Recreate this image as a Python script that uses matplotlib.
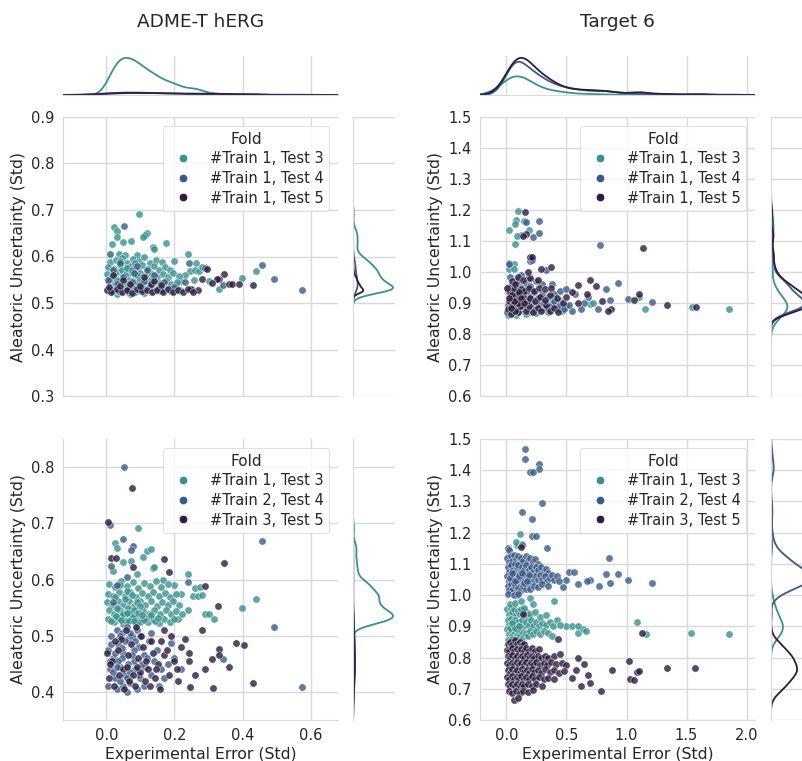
import numpy as np
import matplotlib
matplotlib.use("Agg")
import matplotlib.pyplot as plt
from matplotlib.lines import Line2D
from matplotlib.ticker import FormatStrFormatter

# ---------------- data ----------------
titles = ["ADME-T hERG", "Target 6"]
labels_row1 = ["#Train 1, Test 3", "#Train 1, Test 4", "#Train 1, Test 5"]
labels_row2 = ["#Train 1, Test 3", "#Train 2, Test 4", "#Train 3, Test 5"]
fold_colors = ["#3a918d", "#3b5a88", "#2b1d3e"]

# ADME-T hERG, split 1 (top left)
herg1_test3 = [
    (0.095, 0.691), (0.024, 0.663), (0.031, 0.654), (0.120, 0.651), (0.115, 0.647), (0.031, 0.643),
    (0.108, 0.643), (0.018, 0.626), (0.050, 0.631), (0.072, 0.633), (0.176, 0.628), (0.137, 0.620),
    (0.141, 0.617), (0.036, 0.606), (0.056, 0.603), (0.089, 0.604), (0.241, 0.606), (0.200, 0.590),
    (0.264, 0.585), (0.245, 0.569), (0.260, 0.570), (0.272, 0.568), (0.280, 0.578), (0.440, 0.569),
    (0.397, 0.554), (0.258, 0.550), (0.230, 0.560), (0.220, 0.548), (0.300, 0.548), (0.330, 0.530),
    (0.250, 0.528), (0.205, 0.538),
    (0.010, 0.588), (0.028, 0.592), (0.046, 0.597), (0.062, 0.585), (0.078, 0.594), (0.095, 0.590),
    (0.112, 0.598), (0.128, 0.586), (0.146, 0.593), (0.163, 0.588), (0.005, 0.578), (0.022, 0.574),
    (0.040, 0.581), (0.057, 0.575), (0.073, 0.579), (0.090, 0.572), (0.106, 0.581), (0.122, 0.574),
    (0.139, 0.579), (0.155, 0.572), (0.172, 0.577), (0.188, 0.570), (0.003, 0.563), (0.018, 0.558),
    (0.034, 0.566), (0.050, 0.559), (0.066, 0.564), (0.083, 0.556), (0.100, 0.565), (0.116, 0.557),
    (0.133, 0.563), (0.149, 0.555), (0.165, 0.562), (0.181, 0.556), (0.197, 0.564), (0.212, 0.557),
    (0.008, 0.547), (0.025, 0.542), (0.042, 0.549), (0.058, 0.541), (0.075, 0.548), (0.092, 0.540),
    (0.108, 0.546), (0.125, 0.541), (0.141, 0.549), (0.158, 0.543), (0.175, 0.548), (0.190, 0.541),
    (0.207, 0.546), (0.004, 0.531), (0.020, 0.527), (0.037, 0.533), (0.053, 0.528), (0.070, 0.534),
    (0.087, 0.526), (0.103, 0.532), (0.120, 0.527), (0.136, 0.534), (0.153, 0.528), (0.170, 0.533),
    (0.186, 0.526), (0.200, 0.531), (0.215, 0.527), (0.012, 0.552), (0.045, 0.570), (0.085, 0.585),
    (0.130, 0.550), (0.160, 0.535), (0.070, 0.520), (0.110, 0.522), (0.030, 0.520),
    (0.035, 0.545), (0.055, 0.560), (0.065, 0.550), (0.045, 0.535), (0.080, 0.545), (0.025, 0.565),
    (0.060, 0.575), (0.090, 0.560), (0.040, 0.590), (0.070, 0.540), (0.050, 0.525), (0.085, 0.530),
    (0.030, 0.550), (0.100, 0.550), (0.075, 0.570),
    (0.020, 0.525), (0.040, 0.530), (0.060, 0.528), (0.080, 0.533), (0.100, 0.526), (0.120, 0.531),
    (0.140, 0.525), (0.050, 0.535), (0.070, 0.527), (0.090, 0.538), (0.110, 0.529), (0.030, 0.532),
    (0.130, 0.536), (0.150, 0.530), (0.060, 0.540), (0.045, 0.527), (0.065, 0.532), (0.085, 0.524),
    (0.055, 0.530), (0.075, 0.536), (0.095, 0.529), (0.035, 0.526), (0.105, 0.534), (0.065, 0.524),
]
herg1_test4 = [
    (0.053, 0.665), (0.010, 0.606), (0.244, 0.585), (0.290, 0.575), (0.456, 0.582), (0.492, 0.551),
    (0.343, 0.539), (0.574, 0.527), (0.020, 0.570), (0.050, 0.555), (0.080, 0.565), (0.110, 0.548),
    (0.140, 0.560), (0.030, 0.540), (0.065, 0.535), (0.100, 0.530), (0.130, 0.538), (0.170, 0.545),
    (0.040, 0.585), (0.090, 0.580), (0.005, 0.550), (0.160, 0.525), (0.060, 0.528), (0.120, 0.570),
    (0.200, 0.535), (0.230, 0.545), (0.015, 0.528), (0.075, 0.545),
]
herg1_test5 = [
    (0.296, 0.573), (0.345, 0.562), (0.330, 0.551), (0.325, 0.551), (0.280, 0.552), (0.310, 0.544),
    (0.360, 0.541), (0.370, 0.541), (0.390, 0.540), (0.430, 0.539), (0.250, 0.530), (0.270, 0.528),
    (0.002, 0.527), (0.015, 0.524), (0.030, 0.530), (0.045, 0.523), (0.060, 0.528), (0.075, 0.522),
    (0.090, 0.530), (0.105, 0.525), (0.120, 0.529), (0.135, 0.523), (0.150, 0.528), (0.165, 0.524),
    (0.180, 0.530), (0.195, 0.523), (0.210, 0.527), (0.225, 0.524), (0.240, 0.530), (0.255, 0.524),
    (0.008, 0.535), (0.040, 0.537), (0.070, 0.540), (0.100, 0.536), (0.130, 0.540), (0.160, 0.538),
    (0.050, 0.550), (0.110, 0.555), (0.020, 0.560), (0.140, 0.548),
]

# ADME-T hERG, split 2 (bottom left)
herg2_test3 = [
    (0.093, 0.692), (0.027, 0.665), (0.030, 0.656), (0.120, 0.651), (0.132, 0.654), (0.050, 0.632),
    (0.072, 0.633), (0.108, 0.640), (0.136, 0.620), (0.140, 0.623), (0.240, 0.610), (0.260, 0.585),
    (0.275, 0.586), (0.255, 0.570), (0.270, 0.570), (0.280, 0.572), (0.397, 0.550), (0.440, 0.565),
    (0.290, 0.538), (0.300, 0.538), (0.315, 0.530), (0.220, 0.575), (0.200, 0.590), (0.240, 0.545),
    (0.210, 0.530), (0.020, 0.615), (0.165, 0.600), (0.090, 0.610),
    (0.008, 0.592), (0.026, 0.586), (0.044, 0.598), (0.060, 0.589), (0.077, 0.596), (0.094, 0.585),
    (0.110, 0.594), (0.127, 0.588), (0.145, 0.597), (0.162, 0.586), (0.180, 0.592), (0.004, 0.575),
    (0.021, 0.570), (0.038, 0.578), (0.055, 0.571), (0.071, 0.577), (0.088, 0.569), (0.105, 0.576),
    (0.121, 0.570), (0.138, 0.578), (0.154, 0.571), (0.171, 0.576), (0.187, 0.569), (0.205, 0.574),
    (0.002, 0.560), (0.017, 0.554), (0.033, 0.562), (0.049, 0.555), (0.066, 0.561), (0.082, 0.553),
    (0.099, 0.562), (0.115, 0.555), (0.132, 0.561), (0.148, 0.553), (0.164, 0.560), (0.180, 0.554),
    (0.196, 0.561), (0.213, 0.555), (0.007, 0.545), (0.024, 0.539), (0.041, 0.546), (0.057, 0.538),
    (0.074, 0.545), (0.091, 0.537), (0.107, 0.544), (0.124, 0.538), (0.140, 0.546), (0.157, 0.539),
    (0.174, 0.545), (0.190, 0.538), (0.206, 0.544), (0.222, 0.539), (0.005, 0.529), (0.022, 0.525),
    (0.038, 0.531), (0.055, 0.524), (0.072, 0.530), (0.088, 0.523), (0.104, 0.529), (0.121, 0.524),
    (0.138, 0.530), (0.154, 0.523), (0.170, 0.529), (0.186, 0.524), (0.200, 0.530),
    (0.035, 0.548), (0.055, 0.565), (0.065, 0.550), (0.045, 0.535), (0.080, 0.545), (0.025, 0.568),
    (0.060, 0.580), (0.090, 0.560), (0.040, 0.590), (0.070, 0.540), (0.050, 0.520), (0.085, 0.532),
    (0.030, 0.550), (0.100, 0.552), (0.075, 0.572),
    (0.015, 0.527), (0.035, 0.532), (0.058, 0.527), (0.078, 0.534), (0.098, 0.525), (0.118, 0.532),
    (0.142, 0.526), (0.048, 0.538), (0.068, 0.526), (0.092, 0.540), (0.112, 0.528), (0.028, 0.535),
    (0.132, 0.537), (0.152, 0.531), (0.062, 0.541), (0.042, 0.528), (0.082, 0.527), (0.105, 0.536),
]
herg2_test4 = [
    (0.051, 0.800), (0.011, 0.697), (0.456, 0.668), (0.050, 0.672), (0.078, 0.660), (0.073, 0.652),
    (0.015, 0.624), (0.240, 0.596), (0.492, 0.515), (0.190, 0.487), (0.343, 0.458), (0.574, 0.409),
    (0.155, 0.410), (0.060, 0.605), (0.030, 0.590), (0.020, 0.560),
    (0.005, 0.475), (0.020, 0.460), (0.035, 0.485), (0.050, 0.470), (0.065, 0.495), (0.080, 0.455),
    (0.095, 0.480), (0.110, 0.465), (0.125, 0.490), (0.140, 0.455), (0.010, 0.440), (0.025, 0.425),
    (0.040, 0.445), (0.055, 0.430), (0.070, 0.415), (0.085, 0.440), (0.100, 0.425), (0.115, 0.445),
    (0.130, 0.430), (0.015, 0.500), (0.030, 0.510), (0.045, 0.505), (0.060, 0.515), (0.075, 0.500),
    (0.090, 0.510), (0.005, 0.410), (0.030, 0.405), (0.050, 0.410), (0.065, 0.450), (0.045, 0.460),
    (0.025, 0.470), (0.080, 0.475), (0.100, 0.500), (0.120, 0.460), (0.150, 0.475), (0.160, 0.440),
    (0.170, 0.425), (0.090, 0.405), (0.060, 0.400), (0.040, 0.420), (0.020, 0.435), (0.035, 0.455),
    (0.070, 0.435), (0.110, 0.410), (0.180, 0.450), (0.200, 0.460), (0.220, 0.440), (0.130, 0.505),
    (0.055, 0.490), (0.015, 0.485), (0.045, 0.478), (0.075, 0.465), (0.105, 0.450), (0.060, 0.425),
    (0.030, 0.445), (0.085, 0.490), (0.010, 0.455), (0.070, 0.505), (0.095, 0.430), (0.040, 0.500),
]
herg2_test5 = [
    (0.075, 0.763), (0.004, 0.703), (0.014, 0.638), (0.028, 0.638), (0.078, 0.623), (0.169, 0.637),
    (0.184, 0.614), (0.345, 0.630), (0.290, 0.588), (0.328, 0.553), (0.280, 0.510), (0.170, 0.511),
    (0.380, 0.487), (0.404, 0.483), (0.330, 0.477), (0.243, 0.470), (0.243, 0.455), (0.310, 0.458),
    (0.330, 0.466), (0.360, 0.445), (0.290, 0.440), (0.247, 0.408), (0.313, 0.407), (0.430, 0.415),
    (0.220, 0.480), (0.260, 0.430), (0.210, 0.420), (0.190, 0.500), (0.230, 0.495),
    (0.003, 0.470), (0.018, 0.455), (0.033, 0.475), (0.048, 0.440), (0.063, 0.465), (0.078, 0.430),
    (0.093, 0.460), (0.108, 0.480), (0.123, 0.440), (0.138, 0.470), (0.153, 0.450), (0.168, 0.465),
    (0.183, 0.430), (0.198, 0.455), (0.008, 0.425), (0.023, 0.410), (0.038, 0.430), (0.053, 0.405),
    (0.068, 0.420), (0.083, 0.410), (0.098, 0.435), (0.113, 0.420), (0.128, 0.410), (0.143, 0.425),
    (0.158, 0.405), (0.012, 0.450), (0.042, 0.495), (0.072, 0.485), (0.102, 0.500), (0.132, 0.490),
    (0.162, 0.490), (0.087, 0.515), (0.057, 0.510), (0.027, 0.490), (0.117, 0.455), (0.147, 0.440),
    (0.177, 0.475), (0.207, 0.440), (0.060, 0.445), (0.090, 0.445),
]

# Target 6, split 1 (top right)
t6a_test3 = [
    (0.100, 1.197), (0.080, 1.168), (0.143, 1.165), (0.070, 1.155), (0.020, 1.136), (0.185, 1.137),
    (0.120, 1.120), (0.090, 1.115), (0.075, 1.090), (0.020, 1.030), (0.060, 1.025), (0.020, 1.010),
    (0.060, 1.010), (1.100, 0.920), (1.157, 0.881), (1.545, 0.888), (1.850, 0.882), (0.700, 0.896),
    (0.720, 0.900),
    (0.010, 0.860), (0.040, 0.870), (0.080, 0.862), (0.120, 0.875), (0.160, 0.865), (0.200, 0.872),
    (0.250, 0.868), (0.300, 0.880), (0.350, 0.870), (0.020, 0.890), (0.060, 0.900), (0.100, 0.885),
    (0.140, 0.895), (0.180, 0.905), (0.220, 0.890), (0.280, 0.900), (0.330, 0.890), (0.030, 0.920),
    (0.070, 0.930), (0.110, 0.915), (0.150, 0.925), (0.200, 0.935), (0.260, 0.920), (0.010, 0.945),
    (0.050, 0.955), (0.090, 0.940), (0.130, 0.950), (0.380, 0.900), (0.420, 0.880), (0.460, 0.875),
    (0.500, 0.890), (0.450, 0.905), (0.040, 0.880), (0.070, 0.875), (0.110, 0.895),
    (0.030, 0.878), (0.050, 0.885), (0.080, 0.880), (0.060, 0.870), (0.100, 0.872), (0.040, 0.895),
    (0.090, 0.890), (0.120, 0.885), (0.070, 0.888), (0.020, 0.875),
]
t6a_test4 = [
    (0.160, 1.160), (0.275, 1.165), (0.270, 1.125), (0.220, 1.113), (0.200, 1.035), (0.210, 1.040),
    (0.776, 1.087), (0.330, 1.007), (0.930, 0.964), (0.830, 0.944), (1.010, 0.913), (1.210, 0.902),
    (0.760, 0.880), (0.860, 0.910), (0.650, 0.900), (0.620, 0.880), (0.680, 0.920),
    (0.005, 0.870), (0.030, 0.880), (0.060, 0.875), (0.090, 0.890), (0.120, 0.880), (0.150, 0.900),
    (0.180, 0.885), (0.210, 0.900), (0.240, 0.880), (0.270, 0.895), (0.310, 0.900), (0.340, 0.885),
    (0.370, 0.890), (0.400, 0.905), (0.440, 0.890), (0.480, 0.880), (0.520, 0.895), (0.550, 0.875),
    (0.020, 0.910), (0.050, 0.920), (0.080, 0.905), (0.110, 0.925), (0.140, 0.915), (0.170, 0.930),
    (0.200, 0.920), (0.230, 0.935), (0.260, 0.915), (0.300, 0.930), (0.350, 0.920), (0.400, 0.930),
    (0.450, 0.940), (0.010, 0.940), (0.040, 0.955), (0.070, 0.945), (0.100, 0.960), (0.130, 0.950),
    (0.160, 0.965), (0.200, 0.955), (0.250, 0.970), (0.300, 0.960), (0.030, 0.985), (0.080, 0.975),
    (0.120, 0.990), (0.180, 0.980), (0.020, 1.025), (0.090, 0.970), (0.380, 0.960), (0.500, 0.945),
    (0.570, 0.930), (0.015, 0.895),
    (0.040, 0.890), (0.070, 0.900), (0.100, 0.880), (0.060, 0.915), (0.090, 0.930), (0.120, 0.905),
    (0.050, 0.870), (0.080, 0.895), (0.110, 0.900), (0.030, 0.925), (0.140, 0.890), (0.065, 0.885),
]
t6a_test5 = [
    (0.157, 1.193), (0.160, 1.122), (0.135, 1.116), (0.200, 1.049), (0.210, 1.049), (0.370, 1.015),
    (1.140, 1.078), (0.695, 0.974), (0.750, 0.956), (1.100, 0.930), (1.060, 0.910), (1.340, 0.895),
    (0.870, 0.881), (0.800, 0.905), (1.580, 0.888), (0.670, 0.930), (0.600, 0.957), (0.850, 0.875),
    (0.010, 0.880), (0.040, 0.865), (0.070, 0.885), (0.100, 0.870), (0.130, 0.890), (0.160, 0.875),
    (0.190, 0.890), (0.220, 0.870), (0.260, 0.885), (0.290, 0.875), (0.330, 0.895), (0.360, 0.875),
    (0.400, 0.885), (0.430, 0.870), (0.470, 0.900), (0.020, 0.905), (0.050, 0.915), (0.080, 0.900),
    (0.110, 0.910), (0.140, 0.920), (0.170, 0.905), (0.200, 0.915), (0.240, 0.905), (0.280, 0.920),
    (0.320, 0.910), (0.360, 0.925), (0.420, 0.915), (0.030, 0.935), (0.060, 0.945), (0.090, 0.930),
    (0.120, 0.945), (0.150, 0.940), (0.190, 0.950), (0.230, 0.940), (0.270, 0.950), (0.320, 0.945),
    (0.370, 0.950), (0.050, 0.970), (0.100, 0.985), (0.140, 0.975), (0.200, 0.980), (0.260, 0.975),
    (0.070, 0.960), (0.005, 0.950), (0.180, 1.000), (0.290, 1.010), (0.500, 0.920), (0.550, 0.935),
    (0.600, 0.900),
    (0.055, 0.895), (0.085, 0.910), (0.115, 0.890), (0.045, 0.925), (0.075, 0.875), (0.105, 0.935),
    (0.035, 0.885), (0.095, 0.900), (0.125, 0.915), (0.065, 0.905), (0.025, 0.915), (0.145, 0.900),
]

# Target 6, split 2 (bottom right)
t6b_test3 = [
    (0.110, 1.195), (0.090, 1.160), (0.080, 1.170), (0.020, 1.130), (0.130, 1.165), (1.090, 0.915),
    (1.160, 0.876), (1.540, 0.880), (1.850, 0.876), (0.500, 0.900), (0.550, 0.900), (0.600, 0.880),
    (0.640, 0.890), (0.660, 0.885), (0.600, 0.900), (0.400, 0.980), (0.200, 0.990), (0.220, 0.970),
    (0.050, 1.010), (0.090, 1.000),
    (0.005, 0.955), (0.020, 0.940), (0.035, 0.960), (0.050, 0.945), (0.065, 0.955), (0.080, 0.935),
    (0.095, 0.950), (0.110, 0.940), (0.125, 0.955), (0.140, 0.935), (0.160, 0.945), (0.180, 0.930),
    (0.200, 0.940), (0.010, 0.920), (0.025, 0.905), (0.040, 0.925), (0.055, 0.910), (0.070, 0.920),
    (0.085, 0.900), (0.100, 0.915), (0.115, 0.905), (0.130, 0.920), (0.145, 0.900), (0.165, 0.915),
    (0.185, 0.905), (0.205, 0.920), (0.225, 0.900), (0.250, 0.915), (0.270, 0.900), (0.300, 0.910),
    (0.330, 0.905), (0.360, 0.915), (0.390, 0.900), (0.420, 0.920), (0.450, 0.905), (0.005, 0.890),
    (0.020, 0.875), (0.035, 0.885), (0.050, 0.870), (0.065, 0.885), (0.080, 0.865), (0.095, 0.880),
    (0.110, 0.870), (0.125, 0.885), (0.140, 0.865), (0.160, 0.880), (0.180, 0.870), (0.200, 0.885),
    (0.220, 0.875), (0.250, 0.885), (0.280, 0.875), (0.310, 0.885), (0.350, 0.880), (0.380, 0.870),
    (0.015, 0.855), (0.045, 0.858), (0.075, 0.852), (0.120, 0.856), (0.030, 0.970), (0.070, 0.975),
    (0.150, 0.960), (0.240, 0.945), (0.280, 0.930), (0.330, 0.935), (0.120, 0.980),
    (0.030, 0.895), (0.060, 0.900), (0.090, 0.890), (0.045, 0.912), (0.075, 0.895), (0.105, 0.902),
]
t6b_test4 = [
    (0.157, 1.468), (0.157, 1.436), (0.270, 1.420), (0.270, 1.405), (0.200, 1.393), (0.220, 1.395),
    (0.300, 1.295), (0.126, 1.266), (0.210, 1.243), (0.210, 1.189), (0.250, 1.189), (0.015, 1.150),
    (0.020, 1.145), (0.340, 1.150), (0.857, 1.120), (0.830, 1.067), (0.930, 1.067), (0.520, 1.073),
    (0.560, 1.073), (1.010, 1.050), (1.210, 1.040), (0.860, 1.040), (0.770, 1.030), (0.700, 1.050),
    (0.670, 1.045), (0.600, 1.035), (0.470, 1.025), (0.500, 1.050), (0.130, 1.160),
    (0.005, 1.120), (0.020, 1.105), (0.035, 1.125), (0.050, 1.110), (0.065, 1.130), (0.080, 1.115),
    (0.095, 1.125), (0.110, 1.105), (0.125, 1.120), (0.140, 1.110), (0.160, 1.125), (0.180, 1.110),
    (0.200, 1.120), (0.220, 1.105), (0.240, 1.115), (0.260, 1.100), (0.010, 1.090), (0.025, 1.075),
    (0.040, 1.095), (0.055, 1.080), (0.070, 1.100), (0.085, 1.085), (0.100, 1.095), (0.115, 1.075),
    (0.130, 1.090), (0.145, 1.080), (0.165, 1.095), (0.185, 1.080), (0.205, 1.090), (0.225, 1.075),
    (0.245, 1.090), (0.265, 1.080), (0.290, 1.090), (0.310, 1.075), (0.330, 1.085), (0.350, 1.070),
    (0.005, 1.060), (0.020, 1.045), (0.035, 1.065), (0.050, 1.050), (0.065, 1.070), (0.080, 1.055),
    (0.095, 1.065), (0.110, 1.045), (0.125, 1.060), (0.140, 1.050), (0.160, 1.065), (0.180, 1.050),
    (0.200, 1.060), (0.220, 1.045), (0.240, 1.060), (0.260, 1.050), (0.280, 1.065), (0.300, 1.050),
    (0.320, 1.060), (0.340, 1.045), (0.360, 1.055), (0.380, 1.065), (0.400, 1.050), (0.420, 1.060),
    (0.440, 1.045), (0.010, 1.030), (0.025, 1.015), (0.040, 1.035), (0.055, 1.020), (0.070, 1.030),
    (0.085, 1.010), (0.100, 1.025), (0.120, 1.015), (0.140, 1.030), (0.160, 1.020), (0.180, 1.035),
    (0.200, 1.020), (0.230, 1.030), (0.260, 1.025), (0.300, 1.035), (0.350, 1.030), (0.015, 1.005),
    (0.060, 1.000), (0.100, 1.005),
    (0.030, 1.055), (0.060, 1.040), (0.090, 1.050), (0.045, 1.070), (0.075, 1.045), (0.105, 1.060),
    (0.150, 1.040), (0.190, 1.065), (0.130, 1.070), (0.170, 1.045),
]
t6b_test5 = [
    (0.120, 1.155), (0.140, 0.940), (0.430, 0.860), (0.880, 0.760), (1.020, 0.790), (1.090, 0.755),
    (1.100, 0.757), (1.030, 0.732), (1.060, 0.728), (1.340, 0.767), (1.570, 0.765), (0.790, 0.692),
    (1.130, 0.880), (0.600, 0.800), (0.650, 0.780), (0.680, 0.745), (0.700, 0.720), (0.580, 0.760),
    (0.550, 0.735), (0.620, 0.710),
    (0.010, 0.845), (0.030, 0.850), (0.050, 0.840), (0.070, 0.855), (0.090, 0.845), (0.110, 0.850),
    (0.130, 0.840), (0.150, 0.845), (0.005, 0.825), (0.025, 0.820), (0.045, 0.830), (0.065, 0.820),
    (0.085, 0.828), (0.105, 0.818), (0.125, 0.826), (0.145, 0.820), (0.165, 0.830), (0.185, 0.822),
    (0.210, 0.830), (0.240, 0.820), (0.270, 0.826), (0.010, 0.805), (0.030, 0.798), (0.050, 0.808),
    (0.070, 0.800), (0.090, 0.806), (0.110, 0.797), (0.130, 0.805), (0.150, 0.800), (0.170, 0.808),
    (0.190, 0.798), (0.210, 0.806), (0.230, 0.800), (0.260, 0.805), (0.290, 0.798), (0.320, 0.806),
    (0.350, 0.800), (0.400, 0.805), (0.450, 0.810), (0.005, 0.782), (0.025, 0.776), (0.045, 0.784),
    (0.065, 0.777), (0.085, 0.785), (0.105, 0.776), (0.125, 0.783), (0.145, 0.777), (0.165, 0.785),
    (0.185, 0.776), (0.205, 0.783), (0.225, 0.777), (0.250, 0.785), (0.280, 0.776), (0.310, 0.783),
    (0.340, 0.777), (0.370, 0.785), (0.410, 0.778), (0.460, 0.782), (0.500, 0.775), (0.010, 0.760),
    (0.030, 0.752), (0.050, 0.762), (0.070, 0.754), (0.090, 0.760), (0.110, 0.752), (0.130, 0.762),
    (0.150, 0.754), (0.170, 0.760), (0.190, 0.752), (0.210, 0.762), (0.230, 0.754), (0.260, 0.760),
    (0.290, 0.752), (0.320, 0.762), (0.360, 0.754), (0.400, 0.760), (0.440, 0.752), (0.480, 0.758),
    (0.005, 0.738), (0.025, 0.732), (0.045, 0.740), (0.065, 0.731), (0.085, 0.739), (0.105, 0.732),
    (0.125, 0.740), (0.145, 0.731), (0.165, 0.738), (0.185, 0.732), (0.210, 0.740), (0.240, 0.731),
    (0.270, 0.738), (0.310, 0.732), (0.350, 0.736), (0.400, 0.730), (0.010, 0.715), (0.030, 0.708),
    (0.050, 0.716), (0.070, 0.709), (0.090, 0.715), (0.110, 0.708), (0.130, 0.716), (0.150, 0.709),
    (0.180, 0.715), (0.210, 0.708), (0.250, 0.714), (0.300, 0.710), (0.020, 0.692), (0.050, 0.688),
    (0.080, 0.694), (0.110, 0.687), (0.140, 0.692), (0.180, 0.690), (0.220, 0.695), (0.060, 0.665),
    (0.100, 0.672),
]

# estimated number of compounds per fold (common-norm marginal KDEs)
herg1_sizes = [800, 90, 90]
herg2_sizes = [800, 80, 80]
t6a_sizes = [300, 550, 650]
t6b_sizes = [280, 1000, 760]

# ---------------- figure ----------------
W, H = 802, 761
TXT = "#262626"
GRID = "#d9d9d9"

plt.rcParams["font.family"] = ["DejaVu Sans"]
plt.rcParams["text.color"] = TXT
plt.rcParams["axes.labelcolor"] = TXT

fig = plt.figure(figsize=(W / 100, H / 100), dpi=100)
fig.patch.set_facecolor("white")


def box(x0, y0, x1, y1):
    return [x0 / W, 1 - y1 / H, (x1 - x0) / W, (y1 - y0) / H]


def kde(vals, grid, n):
    # gaussian KDE, Scott bandwidth for a fold of n compounds
    v = np.asarray(vals)
    bw = v.std(ddof=1) * n ** (-0.2)
    z = (grid[:, None] - v[None, :]) / bw
    return np.exp(-0.5 * z ** 2).sum(1) / (len(v) * bw * np.sqrt(2 * np.pi))


def joint(main_box, top_box, right_box, series, sizes, labels, xlim, ylim,
          xticks, yticks, bottom_row):
    ax = fig.add_axes(box(*main_box))
    for pts, c in zip(series, fold_colors):
        p = np.array(pts)
        ax.scatter(p[:, 0], p[:, 1], s=28, color=c, alpha=0.8,
                   edgecolor="white", linewidth=0.4, zorder=3)
    ax.set_xlim(xlim)
    ax.set_ylim(ylim)
    ax.set_xticks(xticks)
    ax.set_yticks(yticks)
    ax.xaxis.set_major_formatter(FormatStrFormatter("%.1f"))
    ax.yaxis.set_major_formatter(FormatStrFormatter("%.1f"))
    ax.grid(True, color=GRID, linewidth=1)
    ax.set_axisbelow(True)
    for s in ["top", "right"]:
        ax.spines[s].set_visible(False)
    for s in ["left", "bottom"]:
        ax.spines[s].set_color(GRID)
    ax.tick_params(length=0, labelsize=10.5, colors=TXT, pad=6)
    ax.set_ylabel("Aleatoric Uncertainty (Std)", fontsize=11.3, labelpad=4)
    if bottom_row:
        ax.set_xlabel("Experimental Error (Std)", fontsize=11.3, labelpad=3)
    else:
        ax.tick_params(labelbottom=False)

    handles = [Line2D([], [], marker="o", linestyle="", markersize=6,
                      markerfacecolor=c, markeredgecolor="white",
                      markeredgewidth=0.4) for c in fold_colors]
    leg = ax.legend(handles, labels, title="Fold", loc="upper right",
                    fontsize=10.5, title_fontsize=11, framealpha=0.8,
                    edgecolor=GRID, fancybox=True, labelspacing=0.32,
                    borderaxespad=0.6)
    leg.get_frame().set_linewidth(0.8)

    tot = float(sum(sizes))
    if top_box is not None:
        axt = fig.add_axes(box(*top_box), sharex=ax)
        gx = np.linspace(xlim[0], xlim[1], 500)
        peak = 0
        for pts, c, n in zip(series, fold_colors, sizes):
            d = kde([p[0] for p in pts], gx, n) * n / tot
            peak = max(peak, d.max())
            axt.plot(gx, d, color=c, linewidth=1.3)
        axt.set_ylim(0, peak * 1.05)
        axt.set_yticks([])
        axt.tick_params(labelbottom=False, length=0)
        axt.grid(True, axis="x", color=GRID, linewidth=1)
        axt.set_axisbelow(True)
        for s in ["top", "right", "left"]:
            axt.spines[s].set_visible(False)
        axt.spines["bottom"].set_color(GRID)
        axt.set_facecolor("none")

    axr = fig.add_axes(box(*right_box), sharey=ax)
    gy = np.linspace(ylim[0], ylim[1], 500)
    peak = 0
    for pts, c, n in zip(series, fold_colors, sizes):
        d = kde([p[1] for p in pts], gy, n) * n / tot
        peak = max(peak, d.max())
        axr.plot(d, gy, color=c, linewidth=1.3)
    axr.set_xlim(0, peak * 1.05)
    axr.set_xticks([])
    axr.tick_params(labelleft=False, length=0)
    axr.grid(True, axis="y", color=GRID, linewidth=1)
    axr.set_axisbelow(True)
    for s in ["top", "right", "bottom"]:
        axr.spines[s].set_visible(False)
    axr.spines["left"].set_color(GRID)
    axr.set_facecolor("none")
    return ax


left_xticks = [0.0, 0.2, 0.4, 0.6]
right_xticks = [0.0, 0.5, 1.0, 1.5, 2.0]

joint((63, 117, 338, 396), (63, 56, 338, 95), (353, 117, 395, 396),
      [herg1_test3, herg1_test4, herg1_test5], herg1_sizes, labels_row1,
      (-0.127, 0.68), (0.3, 0.9), left_xticks, np.arange(0.3, 0.95, 0.1), False)
joint((480, 117, 755, 396), (480, 56, 755, 95), (771, 117, 813, 396),
      [t6a_test3, t6a_test4, t6a_test5], t6a_sizes, labels_row1,
      (-0.22, 2.07), (0.6, 1.5), right_xticks, np.arange(0.6, 1.55, 0.1), False)
joint((63, 439, 338, 720), None, (353, 439, 395, 720),
      [herg2_test3, herg2_test4, herg2_test5], herg2_sizes, labels_row2,
      (-0.127, 0.68), (0.35, 0.85), left_xticks, np.arange(0.4, 0.85, 0.1), True)
joint((480, 439, 755, 720), None, (771, 439, 813, 720),
      [t6b_test3, t6b_test4, t6b_test5], t6b_sizes, labels_row2,
      (-0.22, 2.07), (0.6, 1.5), right_xticks, np.arange(0.6, 1.55, 0.1), True)

fig.text(200.5 / W, 1 - 22 / H, titles[0], ha="center", va="center", fontsize=13.3)
fig.text(617.5 / W, 1 - 22 / H, titles[1], ha="center", va="center", fontsize=13.3)

fig.savefig("out.png", dpi=100, facecolor="white")
